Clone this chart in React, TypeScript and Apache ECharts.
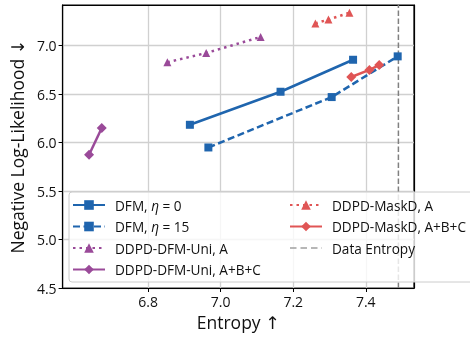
import React, { useEffect, useRef } from "react";
import * as echarts from "echarts";

const dfm0X = [6.915, 7.165, 7.365];
const dfm0Y = [6.184, 6.525, 6.855];
const dfm15X = [6.966, 7.306, 7.488];
const dfm15Y = [5.95, 6.47, 6.89];
const uniAX = [6.853, 6.96, 7.11];
const uniAY = [6.83, 6.925, 7.09];
const uniABCX = [6.637, 6.672];
const uniABCY = [5.874, 6.15];
const maskAX = [7.261, 7.297, 7.355];
const maskAY = [7.23, 7.27, 7.34];
const maskABCX = [7.36, 7.41, 7.437];
const maskABCY = [6.677, 6.75, 6.8];
const dataEntropy = 7.49;
const xTicks = [6.8, 7.0, 7.2, 7.4];
const yTicks = [4.5, 5.0, 5.5, 6.0, 6.5, 7.0];

const BLUE = "#1f65ae";
const PURPLE = "#9a4a99";
const RED = "#e05555";
const GRAY = "#808080";
const FONT = "'Open Sans', 'DejaVu Sans', sans-serif";

const X_MIN = 6.564;
const X_MAX = 7.533;
const Y_MIN = 4.5;
const Y_MAX = 7.42;

const zip = (xs: number[], ys: number[]) => xs.map((x, i) => [x, ys[i]]);

const DASH_ICON =
  "path://M0,0h6.5v1.4h-6.5z M10.5,0h6.5v1.4h-6.5z M21,0h6.5v1.4h-6.5z M31.5,0h0.5v1.4h-0.5z";

export default function App() {
  const ref = useRef<HTMLDivElement>(null);
  useEffect(() => {
    if (!ref.current) return;
    const chart = echarts.init(ref.current, null, { renderer: "svg" });
    const mk = (
      name: string,
      xs: number[],
      ys: number[],
      color: string,
      type: any,
      symbol: string,
      size: number
    ) => ({
      name,
      type: "line",
      data: zip(xs, ys),
      symbol,
      symbolSize: size,
      showSymbol: true,
      itemStyle: { color },
      lineStyle: { color, width: 2.5, type },
      z: 3,
    });
    const frameAxis = (position: string, min: number, max: number) => ({
      type: "value",
      position,
      min,
      max,
      axisLine: { show: true, onZero: false, lineStyle: { color: "#000", width: 1.2 } },
      axisTick: { show: false },
      axisLabel: { show: false },
      splitLine: { show: false },
    });
    const option: any = {
      animation: false,
      textStyle: { fontFamily: FONT },
      grid: {
        left: 62,
        right: 56,
        top: 5,
        bottom: 49,
        show: true,
        borderColor: "#000",
        borderWidth: 1.2,
        backgroundColor: "transparent",
      },
      xAxis: [
        {
          type: "value",
          min: X_MIN,
          max: X_MAX,
          name: "Entropy ↑",
          nameLocation: "middle",
          nameGap: 22,
          nameTextStyle: { fontSize: 17.5, color: "#111", fontFamily: FONT },
          axisLine: { show: true, onZero: false, lineStyle: { color: "#000", width: 1.2 } },
          axisTick: { show: true, length: 4, customValues: xTicks, lineStyle: { color: "#000" } },
          axisLabel: {
            customValues: xTicks,
            formatter: (v: number) => v.toFixed(1),
            fontSize: 14,
            color: "#111",
            margin: 6,
            fontFamily: FONT,
          },
          splitLine: { show: true, lineStyle: { color: "#d0d0d0", width: 1.3 } },
        },
        frameAxis("top", X_MIN, X_MAX),
      ],
      yAxis: [
        {
          type: "value",
          min: Y_MIN,
          max: Y_MAX,
          name: "Negative Log-Likelihood ↓",
          nameLocation: "middle",
          nameGap: 30,
          nameTextStyle: { fontSize: 17.5, color: "#111", fontFamily: FONT },
          axisLine: { show: true, onZero: false, lineStyle: { color: "#000", width: 1.2 } },
          axisTick: { show: true, length: 4, customValues: yTicks, lineStyle: { color: "#000" } },
          axisLabel: {
            customValues: yTicks,
            formatter: (v: number) => v.toFixed(1),
            fontSize: 14,
            color: "#111",
            margin: 6,
            fontFamily: FONT,
          },
          splitLine: { show: true, lineStyle: { color: "#d0d0d0", width: 1.3 } },
        },
        frameAxis("right", Y_MIN, Y_MAX),
      ],
      graphic: [
        {
          type: "rect",
          shape: { x: 69, y: 192, width: 410, height: 90, r: 3 },
          style: { fill: "rgba(255,255,255,0.8)", stroke: "#cccccc", lineWidth: 1 },
          z: 5,
        },
      ],
      legend: [
        {
          left: 72,
          top: 198,
          orient: "vertical",
          padding: 0,
          itemWidth: 32,
          itemHeight: 12,
          itemGap: 7.5,
          z: 10,
          data: ["DFM0", "DFM15", "DDPD-DFM-Uni, A", "DDPD-DFM-Uni, A+B+C"],
          formatter: (n: string) =>
            n === "DFM0" ? "DFM, {i|η} = 0" : n === "DFM15" ? "DFM, {i|η} = 15" : n,
          textStyle: {
            fontSize: 13.6,
            color: "#111",
            fontFamily: FONT,
            padding: [0, 0, 0, 5],
            rich: { i: { fontStyle: "italic", fontSize: 13.6, fontFamily: FONT, color: "#111" } },
          },
        },
        {
          left: 289,
          top: 198,
          orient: "vertical",
          padding: 0,
          itemWidth: 32,
          itemHeight: 12,
          itemGap: 7.5,
          z: 10,
          data: [
            "DDPD-MaskD, A",
            "DDPD-MaskD, A+B+C",
            { name: "Data Entropy", icon: DASH_ICON, itemStyle: { color: "#a0a0a0" } },
          ],
          symbolKeepAspect: true,
          textStyle: {
            fontSize: 13.6,
            color: "#111",
            fontFamily: FONT,
            padding: [0, 0, 0, 5],
          },
        },
      ],
      series: [
        mk("DFM0", dfm0X, dfm0Y, BLUE, "solid", "rect", 8),
        mk("DFM15", dfm15X, dfm15Y, BLUE, [7, 3.5], "rect", 8),
        mk("DDPD-DFM-Uni, A", uniAX, uniAY, PURPLE, [2.5, 4], "triangle", 8),
        mk("DDPD-DFM-Uni, A+B+C", uniABCX, uniABCY, PURPLE, "solid", "diamond", 10),
        mk("DDPD-MaskD, A", maskAX, maskAY, RED, [2.5, 4], "triangle", 8),
        mk("DDPD-MaskD, A+B+C", maskABCX, maskABCY, RED, "solid", "diamond", 10),
        {
          name: "Data Entropy",
          type: "line",
          data: [
            [dataEntropy, Y_MIN],
            [dataEntropy, Y_MAX],
          ],
          symbol: "none",
          itemStyle: { color: GRAY },
          lineStyle: { color: GRAY, width: 1.5, type: [5.5, 2.5] },
          z: 2,
        },
      ],
    };
    chart.setOption(option);
    return () => chart.dispose();
  }, []);
  return (
    <div
      ref={ref}
      style={{ position: "fixed", left: 0, top: 0, width: 470, height: 337 }}
    />
  );
}
